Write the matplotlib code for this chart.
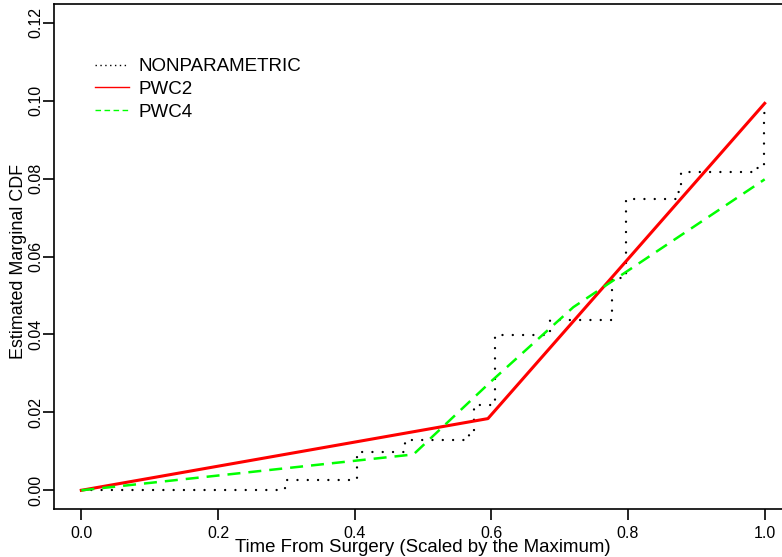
import matplotlib
matplotlib.use("Agg")
import matplotlib.pyplot as plt
from matplotlib.lines import Line2D

plt.rcParams['font.family'] = ['Liberation Sans', 'DejaVu Sans']

# nonparametric estimate (step function, value holds until next time)
np_time = [0.0, 0.298, 0.403, 0.474, 0.568, 0.575, 0.605, 0.686, 0.777, 0.797,
           0.870, 0.877, 0.987, 0.999, 1.0]
np_cdf = [0.0, 0.0026, 0.0099, 0.0128, 0.0146, 0.0220, 0.0398, 0.0437, 0.0545,
          0.0747, 0.0765, 0.0816, 0.0826, 0.0968, 0.0968]

# piecewise constant hazard fits
pwc2_time = [0.0, 0.595, 1.0]
pwc2_cdf = [0.0, 0.0184, 0.0993]

pwc4_time = [0.0, 0.486, 0.60, 0.72, 1.0]
pwc4_cdf = [0.0, 0.0092, 0.0280, 0.0470, 0.0798]

xticks = [0.0, 0.2, 0.4, 0.6, 0.8, 1.0]
yticks = [0.00, 0.02, 0.04, 0.06, 0.08, 0.10, 0.12]

fig = plt.figure(figsize=(7.82, 5.57), dpi=100)
ax = fig.add_axes([54 / 782, 48 / 557, 738 / 782, 505 / 557])

ax.step(np_time, np_cdf, where='post', color='black', lw=1.7,
        linestyle=(0, (0.01, 4.35)), dash_capstyle='round')
ax.plot(pwc2_time, pwc2_cdf, color='#FF0000', lw=2.2)
ax.plot(pwc4_time, pwc4_cdf, color='#00FF00', lw=1.8, linestyle=(0, (5.2, 3.2)))

ax.set_xlim(-0.04, 1.04)
ax.set_ylim(-0.0048, 0.1248)
ax.set_xticks(xticks)
ax.set_xticklabels([f'{t:.1f}' for t in xticks])
ax.set_yticks(yticks)
ax.set_yticklabels([f'{t:.2f}' for t in yticks], rotation=90, va='center')

ax.tick_params(axis='both', direction='out', length=8, width=1.2, labelsize=11.5)
ax.tick_params(axis='x', pad=4)
ax.tick_params(axis='y', pad=0)
for s in ax.spines.values():
    s.set_linewidth(1.2)

ax.set_xlabel('Time From Surgery (Scaled by the Maximum)', fontsize=13.4, labelpad=-1)
ax.set_ylabel('Estimated Marginal CDF', fontsize=12.9)
ax.yaxis.set_label_coords(-0.036, 0.49)

handles = [
    Line2D([], [], color='black', lw=1, linestyle=(0, (1, 2.5))),
    Line2D([], [], color='#FF0000', lw=1),
    Line2D([], [], color='#00FF00', lw=1, linestyle=(0, (4, 2.5))),
]
ax.legend(handles, ['NONPARAMETRIC', 'PWC2', 'PWC4'], loc='upper left',
          bbox_to_anchor=(0.056, 0.893), frameon=False, fontsize=13.5,
          handlelength=1.8, handletextpad=0.5, labelspacing=0.3,
          borderpad=0, borderaxespad=0)

fig.savefig('out.png', dpi=100)
